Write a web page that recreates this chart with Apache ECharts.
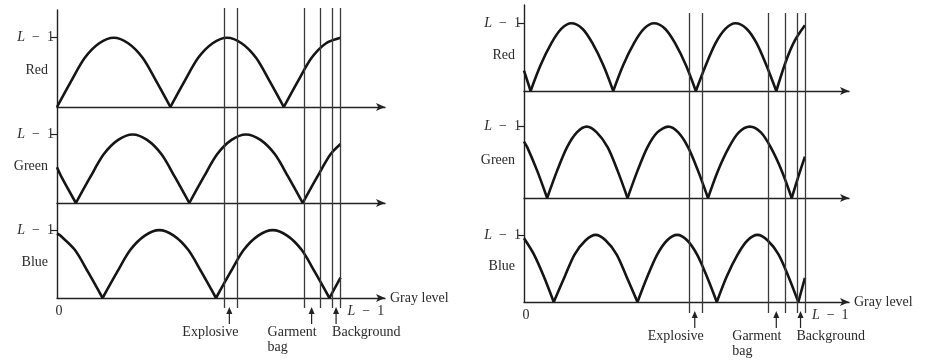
<!DOCTYPE html>
<html>
<head>
<meta charset="utf-8">
<script src="https://cdn.jsdelivr.net/npm/echarts@6/dist/echarts.min.js"></script>
<style>
  html, body { margin: 0; background: #fff; }
  #chart { width: 928px; height: 362px; }
</style>
</head>
<body>
<div id="chart"></div>
<script>
// gray-level thresholds (vertical lines), same for both panels
var thresholds = [150, 162, 222, 237, 248, 255];
// class arrows under the gray-level axis
var arrowAt = [155, 229, 251];
var classNames = ['Explosive', 'Garment\nbag', 'Background'];
var channelNames = ['Red', 'Green', 'Blue'];

// transformation curves: arcs of [gray level, value/(L-1)]
var leftRed = [
  [[0,0],[13,0.38],[25,0.71],[38,0.92],[51,1],[64,0.92],[77,0.71],[89,0.38],[102,0]],
  [[102,0],[115,0.38],[127,0.71],[140,0.92],[153,1],[166,0.92],[179,0.71],[191,0.38],[204,0]],
  [[204,0],[217,0.38],[229,0.71],[242,0.92],[255,1]]
];
var leftGreen = [
  [[0,0.52],[4,0.38],[17,0]],
  [[17,0],[30,0.38],[42,0.71],[55,0.92],[68,1],[81,0.92],[94,0.71],[106,0.38],[119,0]],
  [[119,0],[132,0.38],[144,0.71],[157,0.92],[170,1],[183,0.92],[196,0.71],[208,0.38],[221,0]],
  [[221,0],[234,0.38],[246,0.71],[255,0.86]]
];
var leftBlue = [
  [[0,0.95],[3,0.92],[16,0.71],[28,0.38],[41,0]],
  [[41,0],[54,0.38],[66,0.71],[79,0.92],[92,1],[105,0.92],[118,0.71],[130,0.38],[143,0]],
  [[143,0],[156,0.38],[168,0.71],[181,0.92],[194,1],[207,0.92],[220,0.71],[232,0.38],[245,0]],
  [[245,0],[255,0.3]]
];
var rightRed = [
  [[0,0.3],[6,0]],
  [[6,0],[15,0.38],[25,0.71],[34,0.92],[43,1],[53,0.92],[62,0.71],[72,0.38],[81,0]],
  [[81,0],[90,0.38],[100,0.71],[109,0.92],[118,1],[128,0.92],[137,0.71],[147,0.38],[156,0]],
  [[156,0],[165,0.38],[174,0.71],[183,0.92],[192,1],[202,0.92],[211,0.71],[220,0.38],[229,0]],
  [[229,0],[238,0.45],[246,0.75],[255,0.97]]
];
var rightGreen = [
  [[0,0.79],[3,0.71],[12,0.38],[21,0]],
  [[21,0],[30,0.38],[39,0.71],[48,0.92],[57,1],[66,0.92],[76,0.71],[85,0.38],[94,0]],
  [[94,0],[103,0.38],[112,0.71],[121,0.92],[131,1],[140,0.92],[149,0.71],[158,0.38],[167,0]],
  [[167,0],[176,0.38],[186,0.71],[195,0.92],[205,1],[215,0.92],[224,0.71],[234,0.38],[243,0]],
  [[243,0],[249,0.3],[255,0.58]]
];
var rightBlue = [
  [[0,0.95],[9,0.71],[18,0.38],[27,0]],
  [[27,0],[37,0.38],[46,0.71],[56,0.92],[65,1],[74,0.92],[84,0.71],[93,0.38],[103,0]],
  [[103,0],[112,0.38],[121,0.71],[130,0.92],[139,1],[148,0.92],[157,0.71],[166,0.38],[175,0]],
  [[175,0],[184,0.38],[194,0.71],[203,0.92],[212,1],[221,0.92],[231,0.71],[240,0.38],[249,0]],
  [[249,0],[255,0.36]]
];

var curves = [leftRed, leftGreen, leftBlue, rightRed, rightGreen, rightBlue];

var FONT = 'Liberation Serif';
var INK = '#222';
var TXT = '#2a2a2a';
var FS = 14;

var chart = echarts.init(document.getElementById('chart'));

// grids 0-2: left panel, 3-5: right panel, 6-7: overlays for the vertical lines
var grids = [
  {left: 57, top: 10, width: 328, height: 97},
  {left: 57, top: 107, width: 328, height: 96},
  {left: 57, top: 203, width: 328, height: 95},
  {left: 524, top: 5, width: 325, height: 86},
  {left: 524, top: 91, width: 325, height: 107},
  {left: 524, top: 198, width: 325, height: 104},
  {left: 57, top: 8, width: 328, height: 300},
  {left: 524, top: 13, width: 325, height: 300}
];
var yTop = [1.4, 1.4, 1.4, 1.27, 1.5, 1.55];

var xAxes = [], yAxes = [], series = [];
grids.forEach(function (g, i) {
  var overlay = i >= 6;
  xAxes.push({
    gridIndex: i, type: 'value', min: 0, max: 295, show: !overlay,
    name: (i === 2 || i === 5) ? 'Gray level' : '',
    nameLocation: 'end', nameGap: 5,
    nameTextStyle: {fontFamily: FONT, fontSize: FS, color: TXT},
    axisLine: {show: true, lineStyle: {color: INK, width: 1.4}, symbol: ['none', 'arrow'], symbolSize: [6, 9]},
    axisTick: {show: false}, axisLabel: {show: false}, splitLine: {show: false}
  });
  yAxes.push({
    gridIndex: i, type: 'value', min: 0, max: overlay ? 1 : yTop[i], show: !overlay,
    axisLine: {show: true, lineStyle: {color: INK, width: 1.4}},
    splitLine: {show: false},
    axisTick: {show: true, customValues: [1], length: 6, lineStyle: {color: INK, width: 1.2}},
    axisLabel: {
      show: true, customValues: [1], margin: 3,
      formatter: function () { return '{i|L}  −  1'; },
      fontFamily: FONT, fontSize: FS, color: TXT,
      rich: {i: {fontStyle: 'italic', fontFamily: FONT, fontSize: FS, color: TXT}}
    }
  });
});

curves.forEach(function (segs, gi) {
  segs.forEach(function (seg) {
    series.push({
      type: 'line', xAxisIndex: gi, yAxisIndex: gi, data: seg,
      smooth: 0.3, showSymbol: false, silent: true, animation: false,
      lineStyle: {color: '#151515', width: 2.6}
    });
  });
});

[6, 7].forEach(function (gi) {
  series.push({
    type: 'line', xAxisIndex: gi, yAxisIndex: gi, data: [],
    silent: true, animation: false,
    markLine: {
      symbol: ['none', 'none'], silent: true, animation: false,
      label: {show: false},
      lineStyle: {color: '#3a3a3a', width: 1.3, type: 'solid'},
      emphasis: {disabled: true},
      data: thresholds.map(function (t) { return {xAxis: t}; })
    }
  });
});

chart.setOption({
  backgroundColor: '#fff',
  animation: false,
  grid: grids,
  xAxis: xAxes,
  yAxis: yAxes,
  series: series
});

// text and arrows placed from the axes' own scales
function px(gi, v) { return chart.convertToPixel({gridIndex: gi}, v); }
function txt(x, y, s, align, vAlign) {
  return {type: 'text', x: x, y: y, silent: true, style: {
    text: s, fill: TXT, font: FS + 'px "' + FONT + '"',
    textAlign: align, textVerticalAlign: vAlign || 'middle', lineHeight: 15
  }};
}
var els = [];
[[0, 1, 2], [3, 4, 5]].forEach(function (panel, p) {
  panel.forEach(function (gi, c) {
    var pt = px(gi, [0, 0.53]);
    els.push(txt(pt[0] - 9, pt[1], channelNames[c], 'right'));
  });
  var bottom = panel[2];
  var o = px(bottom, [0, 0]);
  els.push(txt(o[0] + 2, o[1] + 13, '0', 'center'));
  var e = px(bottom, [255, 0]);
  els.push({type: 'text', x: e[0] + 7, y: e[1] + 13, silent: true, style: {
    text: '{i|L}  −  1', fill: TXT, font: FS + 'px "' + FONT + '"', textAlign: 'left', textVerticalAlign: 'middle',
    rich: {i: {fontStyle: 'italic', fontFamily: FONT, fontSize: FS, fill: TXT}}
  }});
  arrowAt.forEach(function (a, k) {
    var q = px(bottom, [a, 0]);
    els.push({type: 'line', silent: true, shape: {x1: q[0], y1: q[1] + 26, x2: q[0], y2: q[1] + 14},
      style: {stroke: INK, lineWidth: 1.2}});
    els.push({type: 'polygon', silent: true,
      shape: {points: [[q[0], q[1] + 9], [q[0] - 3, q[1] + 16], [q[0] + 3, q[1] + 16]]},
      style: {fill: INK}});
    var ty = q[1] + 27;
    if (k === 0) els.push(txt(q[0] + 9, ty, classNames[k], 'right', 'top'));
    else if (k === 1) els.push(txt(q[0] - 44, ty, classNames[k], 'left', 'top'));
    else els.push(txt(q[0] - 4, ty, classNames[k], 'left', 'top'));
  });
});
chart.setOption({graphic: {elements: els}});
</script>
</body>
</html>
